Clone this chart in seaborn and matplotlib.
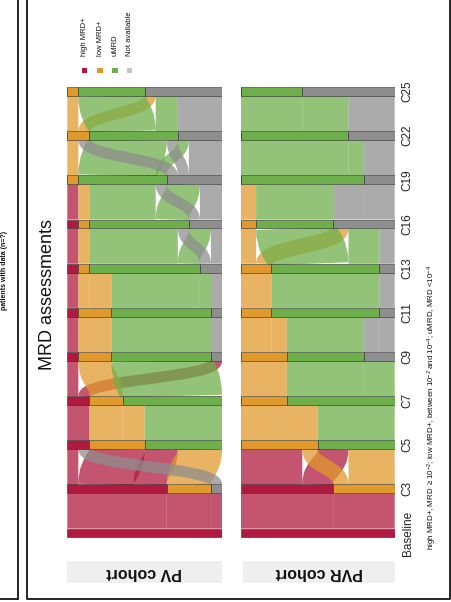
import numpy as np
import matplotlib
matplotlib.use("Agg")
import matplotlib.pyplot as plt
from matplotlib.patches import Rectangle, PathPatch
from matplotlib.path import Path
from matplotlib.lines import Line2D
import seaborn as sns

# MRD alluvial plot, drawn in the rotated orientation of the reference page

timepoints = ["Baseline", "C3", "C5", "C7", "C9", "C11", "C13", "C16", "C19", "C22", "C25"]
status_order = ["H", "L", "U", "N"]
status_labels = ["high MRD+", "low MRD+", "uMRD", "Not available"]
bar_colors = ["#B01A3E", "#E0992B", "#6DAF4B", "#8E8E8E"]
key_colors = ["#B0173B", "#E3962B", "#6DB04A", "#C6C6C6"]
cohorts = ["PV cohort", "PVR cohort"]

# patients moving between consecutive timepoints: (from, to, n)
pv_flows = [
    [("H", "H", 9), ("H", "L", 4), ("H", "N", 1)],
    [("H", "H", 1), ("H", "L", 5), ("H", "U", 3), ("L", "U", 4), ("N", "H", 1)],
    [("H", "H", 2), ("L", "L", 3), ("L", "U", 2), ("U", "U", 7)],
    [("H", "H", 1), ("H", "N", 1), ("L", "L", 3), ("U", "U", 9)],
    [("H", "H", 1), ("L", "L", 3), ("U", "U", 9), ("N", "N", 1)],
    [("H", "H", 1), ("L", "L", 1), ("L", "U", 2), ("U", "U", 8), ("U", "N", 1), ("N", "N", 1)],
    [("H", "H", 1), ("L", "L", 1), ("U", "U", 8), ("U", "N", 2), ("N", "U", 1), ("N", "N", 1)],
    [("H", "L", 1), ("L", "U", 1), ("U", "U", 6), ("U", "N", 3), ("N", "U", 1), ("N", "N", 2)],
    [("L", "L", 1), ("U", "U", 7), ("U", "N", 1), ("N", "L", 1), ("N", "U", 1), ("N", "N", 3)],
    [("L", "L", 1), ("L", "N", 1), ("U", "U", 6), ("U", "N", 2), ("N", "N", 4)],
]

pvr_flows = [
    [("H", "H", 6), ("H", "L", 4)],
    [("H", "L", 4), ("H", "U", 2), ("L", "L", 1), ("L", "U", 3)],
    [("L", "L", 3), ("L", "U", 2), ("U", "U", 5)],
    [("L", "L", 3), ("U", "U", 5), ("U", "N", 2)],
    [("L", "L", 2), ("L", "U", 1), ("U", "U", 5), ("N", "U", 1), ("N", "N", 1)],
    [("L", "L", 2), ("U", "U", 7), ("N", "N", 1)],
    [("L", "L", 1), ("L", "N", 1), ("U", "U", 5), ("U", "N", 2), ("N", "N", 1)],
    [("L", "U", 1), ("U", "U", 5), ("N", "U", 2), ("N", "N", 2)],
    [("U", "U", 7), ("U", "N", 1), ("N", "N", 2)],
    [("U", "U", 4), ("U", "N", 3), ("N", "N", 3)],
]

footnote = (r"high MRD+, MRD $\mathregular{\geq 10^{-2}}$; low MRD+, between $\mathregular{10^{-2}}$"
            r" and $\mathregular{10^{-4}}$; uMRD, MRD <$\mathregular{10^{-4}}$")

sns.set_theme(style="white")
plt.rcParams["font.family"] = ["Liberation Sans", "DejaVu Sans"]
plt.rcParams["mathtext.fontset"] = "custom"
plt.rcParams["mathtext.rm"] = "Liberation Sans"

W, H = 452, 602
fig = plt.figure(figsize=(W / 100, H / 100), dpi=100)


def fx(x):
    return x / W


def fy(y):
    return 1 - y / H


BAR_H = 0.2
y_top, y_bot = 69.5, 555.1
panel_x = [(67.3, 222.0), (240.7, 394.7)]


def stratum_counts(flows):
    counts = []
    for k in range(len(flows) + 1):
        c = dict.fromkeys(status_order, 0)
        if k < len(flows):
            for s, d, n in flows[k]:
                c[s] += n
        else:
            for s, d, n in flows[-1]:
                c[d] += n
        counts.append(c)
    return counts


def draw_cohort(ax, flows, panel_px):
    counts = stratum_counts(flows)
    total = sum(counts[0].values())
    starts = []
    for c in counts:
        acc, st = 0, {}
        for s in status_order:
            st[s] = acc
            acc += c[s]
        starts.append(st)

    # links: thick strokes along a bezier centre line (sankey style)
    for k, step in enumerate(flows):
        out_cur = dict(starts[k])
        in_cur = dict(starts[k + 1])
        src_pos, dst_pos = {}, {}
        for s, d, n in sorted(step, key=lambda f: (status_order.index(f[0]), status_order.index(f[1]))):
            src_pos[(s, d)] = out_cur[s] + n / 2
            out_cur[s] += n
        for s, d, n in sorted(step, key=lambda f: (status_order.index(f[1]), status_order.index(f[0]))):
            dst_pos[(s, d)] = in_cur[d] + n / 2
            in_cur[d] += n
        y0, y1 = k + BAR_H / 2, k + 1 - BAR_H / 2
        ym = (y0 + y1) / 2
        for s, d, n in step:
            xs = src_pos[(s, d)] / total
            xd = dst_pos[(s, d)] / total
            path = Path([(xs, y0), (xs, ym), (xd, ym), (xd, y1)],
                        [Path.MOVETO, Path.CURVE4, Path.CURVE4, Path.CURVE4])
            lw = n / total * panel_px * 0.72
            ax.add_patch(PathPatch(path, facecolor="none", edgecolor=bar_colors[status_order.index(s)],
                                   linewidth=lw, alpha=0.74, capstyle="butt"))

    # stacked strata bars
    ypos = np.arange(len(timepoints))
    for i, s in enumerate(status_order):
        widths = np.array([c[s] for c in counts]) / total
        lefts = np.array([st[s] for st in starts]) / total
        ax.barh(ypos, widths, left=lefts, height=BAR_H, color=bar_colors[i],
                edgecolor=(0.15, 0.15, 0.15, 0.55), linewidth=0.7, zorder=3)

    ax.set_xlim(0, 1)
    ax.set_ylim(-0.5, len(timepoints) - 0.5)
    sns.despine(ax=ax, left=True, bottom=True)
    ax.set_xticks([])


axes = []
for (x0, x1), flows in zip(panel_x, [pv_flows, pvr_flows]):
    ax = fig.add_axes([fx(x0), fy(y_bot), (x1 - x0) / W, (y_bot - y_top) / H])
    ax.set_facecolor("none")
    draw_cohort(ax, flows, x1 - x0)
    axes.append(ax)

axes[0].set_yticks([])
axes[1].set_yticks(range(len(timepoints)))
axes[1].set_yticklabels(timepoints, rotation=90, va="center", ha="left", fontsize=8.5, color="#222222")
axes[1].yaxis.tick_right()
axes[1].tick_params(axis="y", length=0, pad=5)

# facet strips (upside down)
for (x0, x1), name in zip([(67, 222), (243, 395)], cohorts):
    fig.add_artist(Rectangle((fx(x0), fy(583)), (x1 - x0) / W, 22 / H,
                             transform=fig.transFigure, facecolor="#EFEFEF", edgecolor="none"))
    fig.text(fx((x0 + x1) / 2), fy(572), name, rotation=180, ha="center", va="center",
             fontsize=11.5, fontweight="bold", color="#111111")

# title
fig.text(fx(47.5), fy(295), "MRD assessments", rotation=90, ha="center", va="center",
         fontsize=13, color="#111111")

# legend
for xc, lab, col in zip([84.5, 100, 115, 129.5], status_labels, key_colors):
    fig.add_artist(Rectangle((fx(xc - 2.6), fy(73.2)), 5.2 / W, 5.2 / H,
                             transform=fig.transFigure, facecolor=col, edgecolor="none"))
    fig.text(fx(xc + 0.5), fy(56), lab, rotation=90, ha="center", va="bottom",
             fontsize=5.5, color="#111111")

# caption
fig.text(fx(432), fy(550), footnote, rotation=90, ha="center", va="bottom",
         fontsize=5.7, color="#111111")

# text from the neighbouring panel, mostly hidden behind the page edge
fig.text(fx(4.5), fy(270), "patients with data (n=?)", rotation=90, ha="center", va="center",
         fontsize=5, fontweight="bold", color="#111111")

# page frames
frame = dict(color="black", linewidth=1.2, transform=fig.transFigure)
fig.add_artist(Line2D([fx(18.5), fx(18.5)], [fy(0), fy(598.5)], **frame))
fig.add_artist(Line2D([fx(0), fx(18.5)], [fy(598.5), fy(598.5)], **frame))
fig.add_artist(Line2D([fx(27), fx(27), fx(450), fx(450)], [fy(0), fy(599), fy(599), fy(0)], **frame))

fig.savefig("out.png", dpi=100)
